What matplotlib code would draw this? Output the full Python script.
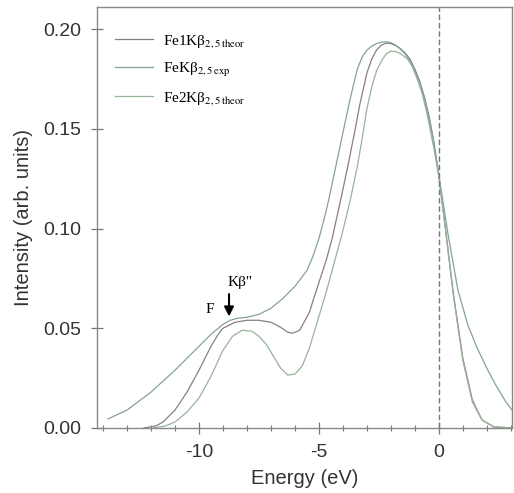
import numpy as np
import matplotlib.pyplot as plt
from matplotlib.ticker import MultipleLocator

# ---------------------------------------------------------
# Data (energy in eV, intensity arb. units)
# ---------------------------------------------------------
e_exp = [-13.8, -13.0, -12.0, -11.0, -10.5, -10.0, -9.5, -9.0, -8.7, -8.4, -8.0,
         -7.5, -7.0, -6.5, -6.0, -5.5, -5.25, -5.0, -4.8, -4.6, -4.3, -4.0, -3.7,
         -3.4, -3.2, -3.0, -2.8, -2.6, -2.4, -2.2, -2.0, -1.8, -1.6, -1.4, -1.2,
         -1.0, -0.8, -0.6, -0.3, 0.0, 0.4, 0.8, 1.2, 1.6,
         2.0, 2.4, 2.8, 3.05]
i_exp = [0.0045, 0.009, 0.018, 0.029, 0.035, 0.041, 0.047, 0.052, 0.054, 0.055, 0.0555,
         0.057, 0.060, 0.065, 0.071, 0.079, 0.086, 0.095, 0.104, 0.114, 0.131, 0.148, 0.165,
         0.180, 0.186, 0.1895, 0.1915, 0.1928, 0.1935, 0.1937, 0.1933, 0.192, 0.190, 0.1875, 0.184,
         0.179, 0.173, 0.165, 0.149, 0.127, 0.096, 0.069, 0.052, 0.040,
         0.030, 0.021, 0.013, 0.009]

e_fe1 = [-12.3, -11.8, -11.5, -11.0, -10.5, -10.0, -9.5, -9.2, -9.0, -8.5, -8.0, -7.5,
         -7.0, -6.6, -6.3, -6.1, -5.8, -5.4, -5.0, -4.7, -4.45, -4.1, -3.8, -3.5, -3.3,
         -3.0, -2.8, -2.6, -2.4, -2.2, -2.0, -1.8, -1.6, -1.4, -1.2, -1.0, -0.8,
         -0.6, -0.4, -0.2, 0.0, 0.3, 0.6, 1.0, 1.4, 1.8, 2.3, 3.05]
i_fe1 = [0.0, 0.001, 0.003, 0.009, 0.018, 0.029, 0.041, 0.047, 0.050, 0.053, 0.054, 0.054,
         0.053, 0.0505, 0.048, 0.0475, 0.049, 0.058, 0.073, 0.084, 0.095, 0.114, 0.131, 0.149, 0.162,
         0.178, 0.185, 0.1895, 0.192, 0.193, 0.1928, 0.1918, 0.1903, 0.188, 0.185, 0.180, 0.174,
         0.166, 0.156, 0.143, 0.127, 0.098, 0.068, 0.035, 0.014, 0.004, 0.0005, 0.0]

e_fe2 = [-11.9, -11.4, -11.0, -10.5, -10.0, -9.5, -9.0, -8.6, -8.2, -7.8, -7.5,
         -7.2, -6.9, -6.6, -6.3, -6.0, -5.7, -5.4, -5.0, -4.7, -4.45, -4.2, -4.0, -3.7, -3.4,
         -3.2, -3.0, -2.8, -2.6, -2.4, -2.2, -2.0, -1.8, -1.6, -1.3, -1.1, -0.9, -0.7,
         -0.5, -0.2, 0.0, 0.3, 0.6, 1.0, 1.4, 1.8, 2.3, 3.05]
i_fe2 = [0.0, 0.001, 0.003, 0.008, 0.015, 0.026, 0.039, 0.046, 0.049, 0.0485, 0.046,
         0.042, 0.036, 0.030, 0.0265, 0.027, 0.031, 0.040, 0.056, 0.068, 0.079, 0.090, 0.099, 0.114, 0.131,
         0.145, 0.160, 0.171, 0.179, 0.184, 0.1875, 0.189, 0.1888, 0.1878, 0.185, 0.181, 0.175, 0.168,
         0.158, 0.140, 0.126, 0.097, 0.067, 0.034, 0.013, 0.004, 0.0005, 0.0]

# ---------------------------------------------------------
# Figure
# ---------------------------------------------------------
plt.rcParams["font.family"] = ["Liberation Sans", "DejaVu Sans"]
plt.rcParams["mathtext.fontset"] = "stix"
plt.rcParams["axes.unicode_minus"] = False

fig = plt.figure(figsize=(5.14, 4.93), dpi=100)
ax = fig.add_axes([0.189, 0.132, 0.807, 0.854])

ax.plot(e_fe1, i_fe1, color="#8a7f80", lw=0.9, label="Fe1K\u03b2$_{2,5\\,\\mathrm{theor}}$")
ax.plot(e_exp, i_exp, color="#86a0a0", lw=0.9, label="FeK\u03b2$_{2,5\\,\\mathrm{exp}}$")
ax.plot(e_fe2, i_fe2, color="#98b498", lw=0.9, label="Fe2K\u03b2$_{2,5\\,\\mathrm{theor}}$")

ax.axvline(0, color="#777777", lw=1.0, ls=(0, (4, 2)))

ax.annotate("", xy=(-8.75, 0.0545), xytext=(-8.75, 0.0685),
            arrowprops=dict(arrowstyle="-|>", color="black", lw=1.5,
                            mutation_scale=14))
ax.text(-8.3, 0.0727, "K\u03b2\"", fontsize=11, family="Liberation Serif",
        ha="center", va="center")
ax.text(-9.55, 0.0595, "F", fontsize=11, family="Liberation Serif",
        ha="center", va="center")

ax.set_xlim(-14.25, 3.05)
ax.set_ylim(0, 0.2112)
ax.xaxis.set_major_locator(MultipleLocator(5))
ax.xaxis.set_minor_locator(MultipleLocator(1))
ax.yaxis.set_major_locator(MultipleLocator(0.05))
ax.yaxis.set_major_formatter(plt.FormatStrFormatter("%.2f"))

ax.tick_params(axis="both", which="major", direction="inout", length=9,
               width=0.9, color="#777777", labelsize=14, labelcolor="#333333", pad=7)
ax.tick_params(axis="x", which="minor", direction="inout", length=5,
               width=0.8, color="#777777")
for s in ax.spines.values():
    s.set_color("#888888")
    s.set_linewidth(1.0)

ax.set_xlabel("Energy (eV)", fontsize=14.5, color="#333333", labelpad=6)
ax.set_ylabel("Intensity (arb. units)", fontsize=14.5, color="#333333", labelpad=7)

leg = ax.legend(loc="upper left", bbox_to_anchor=(0.01, 0.97), frameon=False,
                handlelength=2.5, handletextpad=0.65, labelspacing=0.7,
                prop={"family": "Liberation Serif", "size": 11})

fig.savefig("out.png", dpi=100)
